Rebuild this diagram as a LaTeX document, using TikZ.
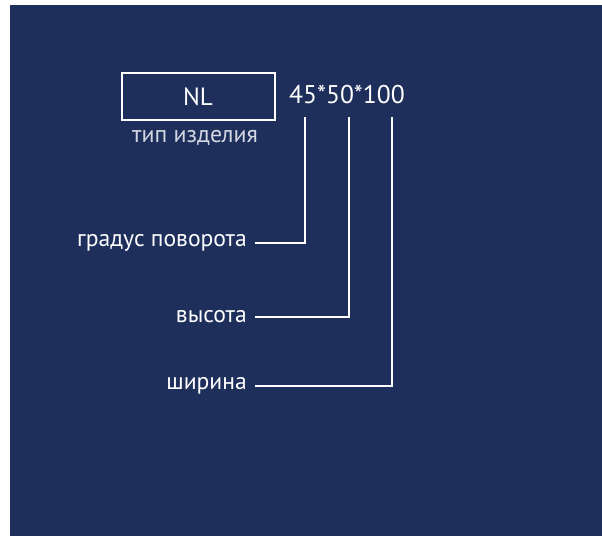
\documentclass[tikz,border=0pt]{standalone}
\usepackage{fontspec}
\setmainfont{PT Sans}
\definecolor{navy}{HTML}{1E2F5C}
\definecolor{subgrey}{HTML}{D4D8E2}
\begin{document}
\begin{tikzpicture}[x=1pt,y=-1pt,
  lbl/.style={text=white,font=\fontsize{23.6}{24}\selectfont,inner sep=0pt,anchor=east},
  conn/.style={draw=white,line width=2pt}]
\useasboundingbox (0,0) rectangle (602,536);
\fill[navy] (10,5) rectangle (602,536);
\node[draw=white,line width=2pt,minimum width=153pt,minimum height=47pt,inner sep=0pt,text=white,font=\fontsize{25}{25}\selectfont] (box) at (198,96.5) {NL};
\node[text=subgrey,font=\fontsize{23.8}{24}\selectfont,inner sep=0pt] (sub) at (195,138) {тип изделия};
\node[text=white,font=\fontsize{25.6}{26}\selectfont,inner sep=0pt,anchor=west] (code) at (289,94) {45*50*100};
\coordinate (t1) at (305,117);
\coordinate (t2) at (349,117);
\coordinate (t3) at (392,117);
\node[lbl] (a) at (247,243) {градус поворота};
\node[lbl] (b) at (247,317) {высота};
\node[lbl] (c) at (247,386) {ширина};
\draw[conn] (t1) |- ([xshift=8pt]a.east);
\draw[conn] (t2) |- ([xshift=8pt]b.east);
\draw[conn] (t3) |- ([xshift=8pt]c.east);
\end{tikzpicture}
\end{document}
